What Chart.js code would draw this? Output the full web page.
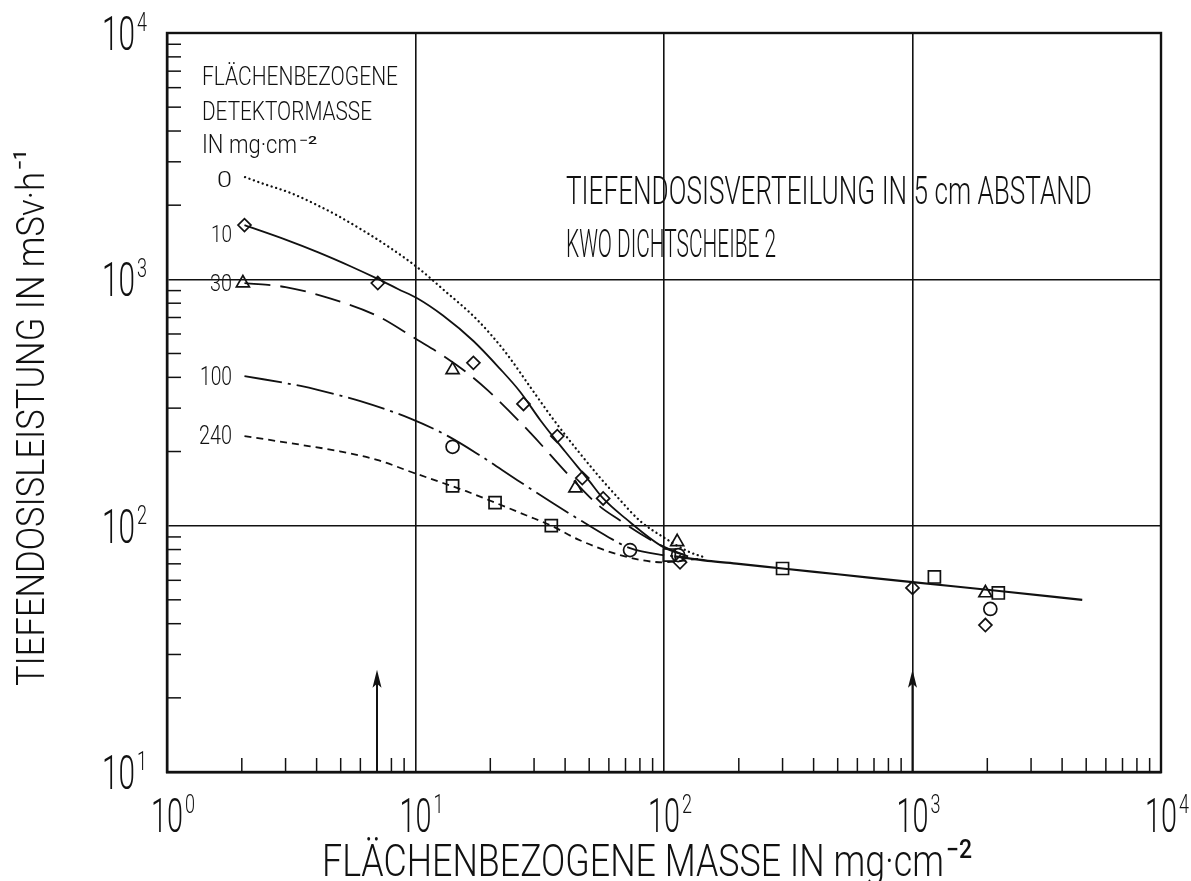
<!DOCTYPE html>
<html><head><meta charset="utf-8">
<script src="https://cdn.jsdelivr.net/npm/chart.js@4"></script>
<style>html,body{margin:0;padding:0;background:#fff}#wrap{width:1191px;height:881px}</style>
</head><body><div id="wrap"><canvas id="c" width="1191" height="881"></canvas></div>
<script>
// ---------- data ----------
const xDecades = [1, 10, 100, 1000, 10000];
const yDecades = [10, 100, 1000, 10000];
const xExponents = ['0', '1', '2', '3', '4'];
const yExponents = ['1', '2', '3', '4'];
const curveLabels = ['0', '10', '30', '100', '240'];

const curve0X = [2.06, 2.385, 3.15, 4.04, 4.86, 6.18, 7.94, 10.19, 12.95, 17.74, 22.98, 29.5, 35.5, 44.7, 55.8, 66.6, 80.1, 99.1, 127, 145];
const curve0Y = [2600, 2463, 2239, 1997, 1813, 1574, 1339, 1117, 908, 684, 507, 356, 274, 203, 155, 127, 104.5, 90, 78, 74.5];
const curve10X = [2.05, 3, 4.04, 5.5, 7.05, 8.5, 10.2, 12.9, 17.1, 21.9, 26.4, 31.8, 40, 50, 56.9, 70, 99, 125];
const curve10Y = [1660, 1450, 1290, 1128, 1004, 914, 836, 713, 562, 433, 349, 268, 200, 152, 129, 107, 82, 75];
const curve30X = [2.05, 3, 4.56, 7.03, 10.2, 12.4, 16, 19.5, 29, 41.9, 55, 66.6, 80, 100, 125];
const curve30Y = [966, 930, 835, 710, 567, 503, 420, 355, 238, 158, 120, 105, 93, 82, 75];
const curve100X = [2.05, 3.45, 4.04, 6, 9.55, 13.4, 18, 25.7, 35, 44.8, 60, 73, 99, 125];
const curve100Y = [405, 369, 356, 320, 272, 232, 194, 153, 125, 107, 89.6, 81, 76, 74.3];
const curve240X = [2.05, 3.45, 5, 7, 9.8, 12.9, 16, 20.9, 28, 35.2, 45, 66.6, 99, 140];
const curve240Y = [231, 213, 200, 185, 164, 149, 138, 124, 110, 100, 88, 76, 71, 73.5];
const commonX = [110, 150, 200, 300, 500, 1000, 2235, 4820];
const commonY = [75, 72, 70, 67, 63.5, 59, 54.3, 50];

const diamondX = [2.05, 7.05, 17.1, 27.2, 37.2, 46.9, 56.9, 116, 1000, 1965];
const diamondY = [1660, 966, 458, 312, 231, 156, 129, 71, 55.9, 39.5];
const triangleX = [2.02, 14.1, 44, 113, 1965];
const triangleY = [966, 429, 142, 86, 53.3];
const circleX = [14.1, 73, 114, 2057];
const circleY = [209, 79.6, 76, 45.9];
const squareX = [14.1, 20.9, 35.2, 105, 300, 1225, 2215];
const squareY = [145, 124, 100, 76, 67, 61.9, 53.3];

const arrowX = [7, 1000];
const arrowTipY = 26;

// ---------- helpers ----------
const FONT = "Roboto,'Liberation Sans Narrow','DejaVu Sans Condensed',sans-serif";
const pts = (xs, ys) => xs.map((x, i) => ({x: x, y: ys[i]}));
const isDecade = v => Math.abs(Math.log10(v) - Math.round(Math.log10(v))) < 1e-9;
function allTicks(decs) {
  const out = [];
  for (let i = 0; i < decs.length - 1; i++) for (let k = 1; k <= 9; k++) out.push(k * decs[i]);
  out.push(decs[decs.length - 1]);
  return out;
}
function txt(ctx, s, x, y, o) {
  const fs = o.cap / 0.71;
  ctx.save();
  ctx.font = (o.bold ? '500 ' : '300 ') + fs + 'px ' + FONT;
  ctx.fillStyle = '#111';
  ctx.textBaseline = 'alphabetic';
  const w = ctx.measureText(s).width;
  const sx = o.width ? o.width / w : 1;
  const tw = w * sx;
  let x0 = x;
  if (o.align === 'right') x0 = x - tw;
  if (o.align === 'center') x0 = x - tw / 2;
  ctx.translate(x0, y);
  ctx.scale(sx, 1);
  ctx.fillText(s, 0, 0);
  ctx.restore();
}
function txtRot(ctx, s, x, y, o) {
  ctx.save();
  ctx.translate(x, y);
  ctx.rotate(-Math.PI / 2);
  txt(ctx, s, 0, 0, o);
  ctx.restore();
}

const lineDs = (xs, ys, dash, extra) => Object.assign({
  data: pts(xs, ys), showLine: true, borderColor: '#111', borderWidth: 1.8,
  borderDash: dash, pointRadius: 0, cubicInterpolationMode: 'monotone', fill: false, order: 2
}, extra || {});
const markDs = (xs, ys, style, r) => ({
  data: pts(xs, ys), showLine: false, pointStyle: style, pointRadius: r,
  pointBorderColor: '#111', pointBackgroundColor: 'rgba(0,0,0,0)', pointBorderWidth: 1.7, order: 1
});

const gridOpts = {
  drawTicks: false,
  color: c => (c.tick && isDecade(c.tick.value)) ? '#111' : 'rgba(0,0,0,0)',
  lineWidth: c => (c.tick && isDecade(c.tick.value)) ? 1.6 : 0
};

const decor = {
  id: 'decor',
  afterDraw(chart) {
    const ctx = chart.ctx, xs = chart.scales.x, ys = chart.scales.y, a = chart.chartArea;
    ctx.save();
    ctx.strokeStyle = '#111';
    ctx.lineWidth = 2.4;
    ctx.strokeRect(a.left, a.top, a.right - a.left, a.bottom - a.top);
    ctx.lineWidth = 1.5;
    allTicks(xDecades).filter(v => !isDecade(v)).forEach(v => {
      const p = xs.getPixelForValue(v);
      ctx.beginPath(); ctx.moveTo(p, a.bottom); ctx.lineTo(p, a.bottom - 14); ctx.stroke();
    });
    allTicks(yDecades).filter(v => !isDecade(v)).forEach(v => {
      const p = ys.getPixelForValue(v);
      ctx.beginPath(); ctx.moveTo(a.left, p); ctx.lineTo(a.left + 14, p); ctx.stroke();
    });
    ctx.fillStyle = '#111';
    arrowX.forEach(v => {
      const px = xs.getPixelForValue(v), tip = ys.getPixelForValue(arrowTipY);
      ctx.lineWidth = 2;
      ctx.beginPath(); ctx.moveTo(px, a.bottom); ctx.lineTo(px, tip + 10); ctx.stroke();
      ctx.beginPath(); ctx.moveTo(px, tip); ctx.lineTo(px - 4.5, tip + 18); ctx.lineTo(px, tip + 14); ctx.lineTo(px + 4.5, tip + 18); ctx.closePath(); ctx.fill();
    });
    ctx.restore();

    xDecades.forEach((v, i) => {
      const p = xs.getPixelForValue(v);
      txt(ctx, '10', p, 832, {cap: 34, width: 32, align: 'center'});
      txt(ctx, xExponents[i], p + 18, 813, {cap: 18, width: 10});
    });
    yDecades.forEach((v, i) => {
      const p = ys.getPixelForValue(v);
      txt(ctx, '10', 135, p + 17, {cap: 34, width: 33, align: 'right'});
      txt(ctx, yExponents[i], 137, p - 2, {cap: 18, width: 10});
    });
    txt(ctx, 'FLÄCHENBEZOGENE MASSE IN mg·cm', 322, 876, {cap: 32, width: 622});
    txt(ctx, '−2', 946, 858, {cap: 18, width: 26, bold: true});
    txtRot(ctx, 'TIEFENDOSISLEISTUNG IN mSv·h', 44, 686, {cap: 28, width: 514});
    txtRot(ctx, '−1', 26, 170, {cap: 13, width: 20, bold: true});
    txt(ctx, 'TIEFENDOSISVERTEILUNG IN 5 cm ABSTAND', 566, 204, {cap: 28, width: 526});
    txt(ctx, 'KWO DICHTSCHEIBE 2', 566, 257, {cap: 28, width: 210});
    txt(ctx, 'FLÄCHENBEZOGENE', 202, 85, {cap: 18, width: 196});
    txt(ctx, 'DETEKTORMASSE', 202, 120, {cap: 18, width: 170});
    txt(ctx, 'IN mg·cm', 202, 153, {cap: 18, width: 95});
    txt(ctx, '−2', 299, 144, {cap: 8, width: 18, bold: true});
    const lab = [[187, 16, 15], [242, 17, 21], [291, 17, 22], [385, 18, 32], [444, 18, 33]];
    curveLabels.forEach((s, i) => txt(ctx, s, 232, lab[i][0], {cap: lab[i][1], width: lab[i][2], align: 'right'}));
  }
};

new Chart(document.getElementById('c'), {
  type: 'scatter',
  data: {
    datasets: [
      lineDs(curve0X, curve0Y, [0.1, 4.6], {borderCapStyle: 'round', borderWidth: 2.3}),
      lineDs(curve10X, curve10Y, []),
      lineDs(curve30X, curve30Y, [26, 10]),
      lineDs(curve100X, curve100Y, [38, 6, 3, 6]),
      lineDs(curve240X, curve240Y, [7, 5]),
      lineDs(commonX, commonY, [], {borderWidth: 2.2}),
      markDs(diamondX, diamondY, 'rectRot', 6.5),
      markDs(triangleX, triangleY, 'triangle', 7.5),
      markDs(circleX, circleY, 'circle', 6.5),
      markDs(squareX, squareY, 'rect', 8.5)
    ]
  },
  options: {
    responsive: false, animation: false,
    layout: {padding: {left: 167, right: 30, top: 33, bottom: 109}},
    scales: {
      x: {type: 'logarithmic', min: 1, max: 10000,
          afterBuildTicks: s => { s.ticks = allTicks(xDecades).map(v => ({value: v})); },
          ticks: {display: false}, grid: gridOpts, border: {display: true, color: '#111', width: 2.4}},
      y: {type: 'logarithmic', min: 10, max: 10000,
          afterBuildTicks: s => { s.ticks = allTicks(yDecades).map(v => ({value: v})); },
          ticks: {display: false}, grid: gridOpts, border: {display: true, color: '#111', width: 2.4}}
    },
    plugins: {legend: {display: false}, tooltip: {enabled: false}}
  },
  plugins: [decor]
});
</script></body></html>
